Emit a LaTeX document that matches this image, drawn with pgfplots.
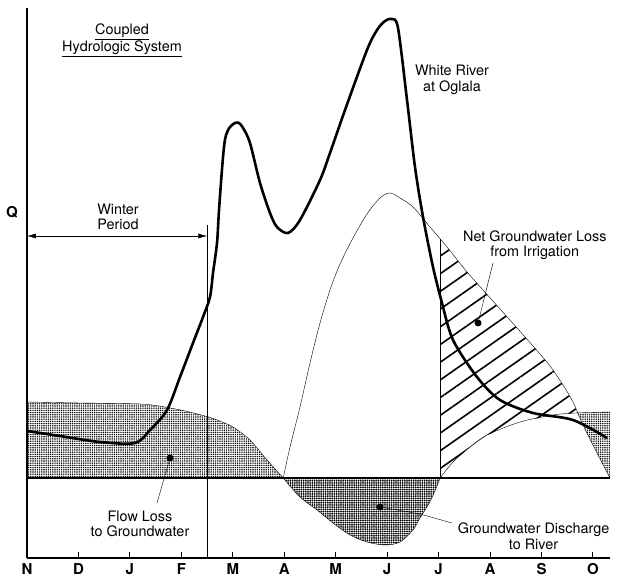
\documentclass[border=0pt]{standalone}
\usepackage{fontspec}
\setmainfont{TeX Gyre Heros}
\usepackage{pgfplots}
\pgfplotsset{compat=1.18}
\usetikzlibrary{patterns.meta,arrows.meta}

\begin{document}
\begin{tikzpicture}[font=\fontsize{14.4}{15.5}\selectfont]
\begin{axis}[
  name=ax,
  scale only axis, width=583pt, height=550pt,
  xmin=0, xmax=11.331, ymin=-8, ymax=47,
  axis x line=bottom, axis y line=left,
  axis line style={-, line width=1.3pt},
  xtick={0,...,11},
  xticklabels={N,D,J,F,M,A,M,J,J,A,S,O},
  xticklabel style={font=\fontsize{15}{16}\selectfont\bfseries, yshift=-2pt},
  ytick=\empty,
  tick align=inside, major tick length=6pt,
  tick style={line width=1pt, black},
  clip=false,
]

% flow loss to groundwater (Nov - Apr)
\addplot[draw=none, pattern={Dots[radius=0.8pt,distance=2.2pt]}] coordinates {
  (0,7.6) (1.03,7.5) (2.196,7.4) (2.682,7.1) (3.071,6.7) (3.460,6.2)
  (3.693,5.8) (4.004,5.1) (4.334,3.8) (4.665,1.8) (4.98,0)
} \closedcycle;
\addplot[thin, smooth] coordinates {
  (0,7.6) (1.03,7.5) (2.196,7.4) (2.682,7.1) (3.071,6.7) (3.460,6.2)
  (3.693,5.8) (4.004,5.1) (4.334,3.8) (4.665,1.8) (4.98,0)
};

% groundwater discharge to river
\addplot[thin, smooth, pattern={Dots[radius=1pt,distance=2.2pt]}] coordinates {
  (4.98,0) (5.306,-1.9) (5.637,-3.2) (5.947,-4.5) (6.278,-5.7) (6.608,-6.4)
  (6.958,-6.7) (7.250,-6.4) (7.502,-5.2) (7.638,-4.0) (7.850,-2.2) (8.03,0)
} \closedcycle;

% net groundwater loss from irrigation (hatched) and late-season loss
\addplot[draw=none, pattern={Lines[angle=35,distance=14.5pt,line width=1.6pt]}] coordinates {
  (8.03,23.9) (8.163,23.1) (8.552,20.6) (8.863,18.8) (9.193,16.9)
  (9.524,15.0) (9.835,13.2) (10.165,11.2) (10.418,9.3) (10.612,7.6)
  (10.70,6.5) (10.223,6.3) (9.582,5.6) (8.941,4.3) (8.610,3.1)
  (8.280,1.6) (8.03,0)
} -- cycle;
\addplot[draw=none, pattern={Dots[radius=0.8pt,distance=2.2pt]}] coordinates {
  (10.70,6.5) (10.807,5.3) (11.079,2.5) (11.331,0) (11.331,6.6)
} -- cycle;

% coupled flow (thin)
\addplot[thin, smooth] coordinates {
  (4.98,0) (5.112,3.1) (5.306,7.1) (5.500,11.5) (5.695,15.5) (5.889,18.8)
  (6.084,21.4) (6.336,24.0) (6.608,26.4) (6.861,28.0) (7.055,28.5)
  (7.250,28.0) (7.502,27.1) (7.833,25.1) (8.163,23.1) (8.552,20.6)
  (8.863,18.8) (9.193,16.9) (9.524,15.0) (9.835,13.2) (10.165,11.2)
  (10.418,9.3) (10.612,7.6) (10.807,5.3) (11.079,2.5) (11.331,0)
};
\addplot[thin, smooth] coordinates {
  (8.03,0) (8.280,1.6) (8.610,3.1) (8.941,4.3) (9.582,5.6) (10.223,6.3)
  (10.651,6.5) (11.331,6.6)
};
\draw[thin] (axis cs:8.03,0) -- (axis cs:8.03,23.9);

% baseline
\draw[line width=1.2pt] (axis cs:0,0) -- (axis cs:11.331,0);

% White River at Oglala
\addplot[line width=2.6pt, smooth] coordinates {
  (0,4.7) (0.641,4.2) (1.419,3.6) (2.099,3.5) (2.391,4.8) (2.721,6.8)
  (2.974,10.1) (3.226,13.5) (3.421,16.1) (3.557,18.1) (3.615,20.5)
  (3.693,23.5) (3.732,26.8) (3.800,31.5) (3.850,33.9) (3.930,35.0)
  (4.040,35.5) (4.120,35.5) (4.200,35.0) (4.334,33.5) (4.529,29.5)
  (4.723,26.5) (4.859,25.1) (5.073,24.5) (5.306,25.8) (5.695,29.8)
  (5.889,32.5) (6.181,36.8) (6.608,42.8) (6.803,44.8) (6.958,45.7)
  (7.094,45.9) (7.211,45.0) (7.386,37.8) (7.541,31.1) (7.697,26.1)
  (7.891,21.1) (8.066,17.5) (8.280,13.8) (8.746,10.1) (9.193,7.8)
  (9.835,6.5) (10.612,5.8) (11.273,4.0)
};

% winter period
\draw[thin] (axis cs:3.50,-8) -- (axis cs:3.50,25.3);
\draw[thin, {Latex[length=9pt,width=5pt]}-{Latex[length=9pt,width=5pt]}]
  (axis cs:0,24.2) -- (axis cs:3.50,24.2);
\node[align=center] at (axis cs:1.77,26.1) {Winter\\Period};

\node[align=center] at (axis cs:1.846,43.8) {\underline{Coupled}\\\underline{Hydrologic System}};
\node[font=\fontsize{15}{16}\selectfont\bfseries] at (axis cs:-0.29,26.6) {Q};
\node[align=center] at (axis cs:8.26,39.8) {White River\\at Oglala};
\node[align=center] at (axis cs:9.87,23.3) {Net Groundwater Loss\\from Irrigation};
\node[align=center] at (axis cs:2.196,-4.6) {Flow Loss\\to Groundwater};
\node[align=center] at (axis cs:9.845,-5.8) {Groundwater Discharge\\to River};

% leaders
\draw[thin] (axis cs:2.779,2.0) -- (axis cs:2.527,-2.5);
\fill (axis cs:2.779,2.0) circle[radius=3.5pt];
\draw[thin] (axis cs:8.766,15.5) -- (axis cs:9.057,21.5);
\fill (axis cs:8.766,15.5) circle[radius=3.5pt];
\draw[thin] (axis cs:6.861,-2.9) -- (axis cs:7.638,-3.6) -- (axis cs:8.26,-4.5);
\fill (axis cs:6.861,-2.9) circle[radius=3.5pt];
\end{axis}
\path (ax.south west) ++(-27pt,-24pt) rectangle ([shift={(7pt,8pt)}]ax.north east);
\end{tikzpicture}
\end{document}
